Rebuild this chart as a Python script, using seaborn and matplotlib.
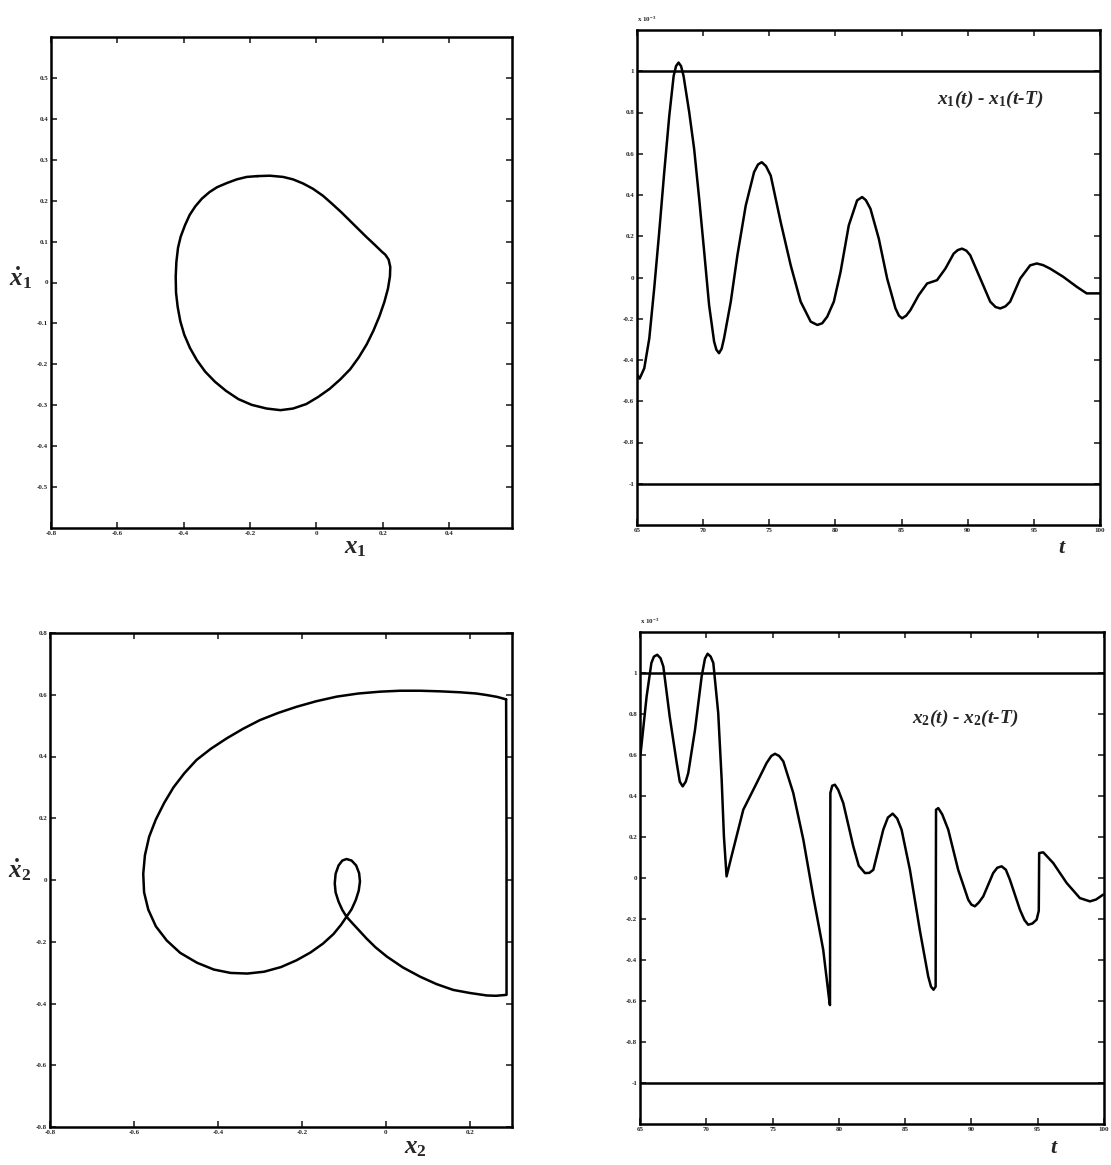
import matplotlib
matplotlib.use("Agg")
import matplotlib.pyplot as plt
import seaborn as sns

# ---- data ----
# phase plane x1 / x1dot (closed loop)
x1_pos = [-0.178, -0.210, -0.240, -0.270, -0.299, -0.322, -0.345, -0.365, -0.382, -0.396,
          -0.409, -0.417, -0.422, -0.424, -0.423, -0.418, -0.410, -0.398, -0.381, -0.360,
          -0.335, -0.305, -0.272, -0.235, -0.195, -0.150, -0.108, -0.070, -0.030, 0.005,
          0.040, 0.072, 0.102, 0.128, 0.152, 0.172, 0.190, 0.205, 0.216, 0.222,
          0.223, 0.218, 0.208, 0.198, 0.175, 0.150, 0.125, 0.100, 0.075, 0.048,
          0.020, -0.010, -0.040, -0.070, -0.100, -0.140, -0.178]
x1_vel = [0.260, 0.258, 0.252, 0.243, 0.233, 0.221, 0.205, 0.186, 0.165, 0.140,
          0.112, 0.085, 0.050, 0.014, -0.025, -0.060, -0.095, -0.128, -0.160, -0.190,
          -0.218, -0.243, -0.265, -0.285, -0.299, -0.308, -0.312, -0.308, -0.297, -0.280,
          -0.260, -0.237, -0.212, -0.183, -0.151, -0.118, -0.083, -0.048, -0.015, 0.015,
          0.038, 0.056, 0.068, 0.075, 0.093, 0.112, 0.132, 0.152, 0.172, 0.192,
          0.212, 0.229, 0.242, 0.252, 0.258, 0.261, 0.260]

# phase plane x2 / x2dot (closed loop with a small inner loop)
x2_pos = [0.286, 0.287, 0.287, 0.262, 0.240, 0.200, 0.160, 0.120, 0.081, 0.040,
          0.002, -0.025, -0.046, -0.065, -0.080, -0.094, -0.104, -0.113, -0.120, -0.122,
          -0.120, -0.113, -0.104, -0.094, -0.082, -0.071, -0.064, -0.062, -0.065, -0.072,
          -0.082, -0.094, -0.107, -0.125, -0.150, -0.180, -0.213, -0.250, -0.290, -0.330,
          -0.370, -0.410, -0.450, -0.490, -0.522, -0.548, -0.566, -0.576, -0.578, -0.574,
          -0.564, -0.548, -0.528, -0.506, -0.480, -0.451, -0.417, -0.379, -0.340, -0.300,
          -0.257, -0.213, -0.166, -0.117, -0.066, -0.014, 0.034, 0.081, 0.130, 0.176,
          0.215, 0.240, 0.265, 0.286]
x2_vel = [0.585, 0.100, -0.372, -0.375, -0.374, -0.366, -0.356, -0.337, -0.313, -0.283,
          -0.248, -0.218, -0.190, -0.162, -0.140, -0.119, -0.097, -0.070, -0.040, -0.011,
          0.020, 0.047, 0.063, 0.068, 0.063, 0.047, 0.022, -0.005, -0.035, -0.065,
          -0.095, -0.119, -0.145, -0.175, -0.206, -0.235, -0.260, -0.282, -0.297, -0.303,
          -0.301, -0.290, -0.268, -0.236, -0.196, -0.150, -0.096, -0.040, 0.020, 0.080,
          0.140, 0.196, 0.250, 0.300, 0.346, 0.389, 0.425, 0.459, 0.490, 0.518,
          0.541, 0.561, 0.579, 0.594, 0.604, 0.610, 0.613, 0.613, 0.611, 0.608,
          0.604, 0.599, 0.593, 0.585]

# x1(t) - x1(t-T), units of 1e-3
t1 = [65.0, 65.2, 65.55, 65.93, 66.3, 66.68, 67.06, 67.44, 67.77, 67.95, 68.14, 68.33,
      68.52, 68.95, 69.32, 69.7, 70.08, 70.45, 70.83, 71.0, 71.2, 71.4, 71.58, 72.09,
      72.59, 73.22, 73.85, 74.15, 74.43, 74.75, 75.11, 75.86, 76.62, 77.37, 78.13, 78.63,
      79.0, 79.38, 79.88, 80.39, 81.01, 81.64, 82.02, 82.3, 82.65, 83.28, 83.91, 84.54,
      84.8, 85.04, 85.35, 85.67, 86.3, 86.93, 87.68, 88.31, 88.94, 89.25, 89.57, 89.9,
      90.19, 90.95, 91.7, 92.1, 92.46, 92.85, 93.21, 93.97, 94.72, 95.22, 95.7, 96.23,
      97.23, 98.24, 98.99, 100.0]
e1 = [-0.47, -0.49, -0.44, -0.295, -0.053, 0.221, 0.511, 0.784, 0.977, 1.025, 1.042, 1.025,
      0.977, 0.80, 0.623, 0.382, 0.124, -0.134, -0.311, -0.350, -0.367, -0.345, -0.295, -0.117,
      0.108, 0.349, 0.511, 0.548, 0.559, 0.540, 0.494, 0.269, 0.059, -0.117, -0.214, -0.230,
      -0.222, -0.190, -0.117, 0.028, 0.253, 0.374, 0.390, 0.375, 0.333, 0.188, -0.005, -0.150,
      -0.185, -0.198, -0.185, -0.158, -0.085, -0.029, -0.013, 0.043, 0.116, 0.133, 0.140, 0.130,
      0.108, -0.005, -0.117, -0.143, -0.150, -0.140, -0.117, -0.005, 0.059, 0.068, 0.060, 0.043,
      0.003, -0.045, -0.077, -0.077]

# x2(t) - x2(t-T), units of 1e-3
t2 = [65.05, 65.5, 65.86, 66.05, 66.3, 66.55, 66.76, 67.24, 67.77, 68.0, 68.22, 68.45,
      68.64, 69.15, 69.65, 69.9, 70.1, 70.33, 70.53, 70.9, 71.16, 71.33, 71.53, 71.9,
      72.79, 73.8, 74.55, 74.9, 75.18, 75.5, 75.81, 76.56, 77.32, 78.07, 78.82, 79.3,
      79.33, 79.36, 79.5, 79.7, 79.95, 80.33, 81.09, 81.5, 81.97, 82.3, 82.6, 83.35,
      83.7, 84.06, 84.4, 84.73, 85.36, 86.1, 86.74, 86.95, 87.14, 87.3, 87.33, 87.5,
      87.8, 88.25, 89.0, 89.76, 90.0, 90.26, 90.55, 90.89, 91.64, 91.95, 92.28, 92.6,
      92.9, 93.66, 94.0, 94.28, 94.6, 94.92, 95.08, 95.11, 95.42, 96.17, 97.18, 98.18,
      98.94, 99.4, 99.94]
e2 = [0.61, 0.886, 1.049, 1.080, 1.089, 1.072, 1.032, 0.788, 0.561, 0.470, 0.447, 0.470,
      0.512, 0.723, 0.983, 1.070, 1.094, 1.080, 1.049, 0.805, 0.48, 0.203, 0.008, 0.105,
      0.333, 0.463, 0.561, 0.595, 0.606, 0.595, 0.569, 0.415, 0.187, -0.09, -0.35, -0.61,
      -0.62, 0.415, 0.450, 0.455, 0.430, 0.366, 0.154, 0.060, 0.024, 0.025, 0.04, 0.236,
      0.295, 0.314, 0.290, 0.236, 0.04, -0.252, -0.48, -0.530, -0.545, -0.53, 0.333, 0.341,
      0.310, 0.236, 0.04, -0.106, -0.130, -0.138, -0.120, -0.09, 0.024, 0.050, 0.057, 0.040,
      -0.008, -0.155, -0.205, -0.228, -0.222, -0.203, -0.16, 0.122, 0.125, 0.073, -0.024, -0.098,
      -0.114, -0.105, -0.081]

phase_xticks_1 = [-0.8, -0.6, -0.4, -0.2, 0, 0.2, 0.4]
phase_yticks_1 = [-0.5, -0.4, -0.3, -0.2, -0.1, 0, 0.1, 0.2, 0.3, 0.4, 0.5]
phase_xticks_2 = [-0.8, -0.6, -0.4, -0.2, 0, 0.2]
phase_yticks_2 = [-0.8, -0.6, -0.4, -0.2, 0, 0.2, 0.4, 0.6, 0.8]
time_xticks = [65, 70, 75, 80, 85, 90, 95, 100]
time_yticks = [-1, -0.8, -0.6, -0.4, -0.2, 0, 0.2, 0.4, 0.6, 0.8, 1]
bound = 1.0

sns.set_style("ticks")
plt.rcParams['font.family'] = ['Liberation Serif', 'DejaVu Serif']
plt.rcParams['mathtext.fontset'] = 'custom'
plt.rcParams['mathtext.it'] = 'Liberation Serif:italic:bold'
plt.rcParams['mathtext.rm'] = 'Liberation Serif:bold'
plt.rcParams['mathtext.bf'] = 'Liberation Serif:bold'

fig = plt.figure(figsize=(11.11, 11.65), dpi=100)
W, H = 1111, 1165


def box(l, t, r, b):
    return [l / W, 1 - b / H, (r - l) / W, (b - t) / H]


def style(ax, xt, yt):
    ax.set_xticks(xt)
    ax.set_yticks(yt)
    ax.set_xticklabels(['%g' % v for v in xt])
    ax.set_yticklabels(['%g' % v for v in yt])
    ax.tick_params(direction='in', length=4, width=1.2, labelsize=5,
                   top=True, right=True, pad=2)
    for lab in ax.get_xticklabels() + ax.get_yticklabels():
        lab.set_fontweight('bold')
    for sp in ax.spines.values():
        sp.set_visible(True)
        sp.set_linewidth(1.8)
        sp.set_color('black')
    ax.set_xlabel('')
    ax.set_ylabel('')


line_kw = dict(color='black', linewidth=1.8, sort=False, estimator=None)
note_kw = dict(fontsize=14, fontweight='bold', fontstyle='italic', ha='center', va='center')

# top-left: x1 phase plane
ax1 = fig.add_axes(box(51, 37, 512, 528))
sns.lineplot(x=x1_pos, y=x1_vel, ax=ax1, **line_kw)
ax1.set_xlim(-0.8, 0.59)
ax1.set_ylim(-0.6, 0.6)
style(ax1, phase_xticks_1, phase_yticks_1)
ax1.text((355 - 51) / 461, -(548 - 528) / 491, r'$x_1$', transform=ax1.transAxes,
         fontsize=18, ha='center', va='center')
ax1.text((20 - 51) / 461, (528 - 278) / 491, r'$\dot{x}_1$', transform=ax1.transAxes,
         fontsize=18, ha='center', va='center')

# top-right: x1(t) - x1(t-T)
ax2 = fig.add_axes(box(637, 30, 1100, 525))
sns.lineplot(x=t1, y=e1, ax=ax2, **line_kw)
ax2.axhline(bound, color='black', linewidth=1.8)
ax2.axhline(-bound, color='black', linewidth=1.8)
ax2.set_xlim(65, 100)
ax2.set_ylim(-1.2, 1.2)
style(ax2, time_xticks, time_yticks)
ax2.text(0.762, 0.859, r'$x_1$($t$) - $x_1$($t$-$T$)', transform=ax2.transAxes, **note_kw)
ax2.text(0.918, -0.048, r'$t$', transform=ax2.transAxes, fontsize=16,
         ha='center', va='center')
ax2.text(0.0, 1.012, r'x 10$^{-3}$', transform=ax2.transAxes, fontsize=5,
         fontweight='bold', ha='left', va='bottom')

# bottom-left: x2 phase plane
ax3 = fig.add_axes(box(50, 633, 512, 1127))
sns.lineplot(x=x2_pos, y=x2_vel, ax=ax3, **line_kw)
ax3.set_xlim(-0.8, 0.3)
ax3.set_ylim(-0.8, 0.8)
style(ax3, phase_xticks_2, phase_yticks_2)
ax3.text((415 - 50) / 462, -(1148 - 1127) / 494, r'$x_2$', transform=ax3.transAxes,
         fontsize=18, ha='center', va='center')
ax3.text((20 - 50) / 462, (1127 - 870) / 494, r'$\dot{x}_2$', transform=ax3.transAxes,
         fontsize=18, ha='center', va='center')

# bottom-right: x2(t) - x2(t-T)
ax4 = fig.add_axes(box(640, 632, 1104, 1124))
sns.lineplot(x=t2, y=e2, ax=ax4, **line_kw)
ax4.axhline(bound, color='black', linewidth=1.8)
ax4.axhline(-bound, color='black', linewidth=1.8)
ax4.set_xlim(65, 100)
ax4.set_ylim(-1.2, 1.2)
style(ax4, time_xticks, time_yticks)
ax4.text(0.70, 0.825, r'$x_2$($t$) - $x_2$($t$-$T$)', transform=ax4.transAxes, **note_kw)
ax4.text(0.894, -0.05, r'$t$', transform=ax4.transAxes, fontsize=16,
         ha='center', va='center')
ax4.text(0.0, 1.012, r'x 10$^{-3}$', transform=ax4.transAxes, fontsize=5,
         fontweight='bold', ha='left', va='bottom')

fig.savefig('out.png', dpi=100)
